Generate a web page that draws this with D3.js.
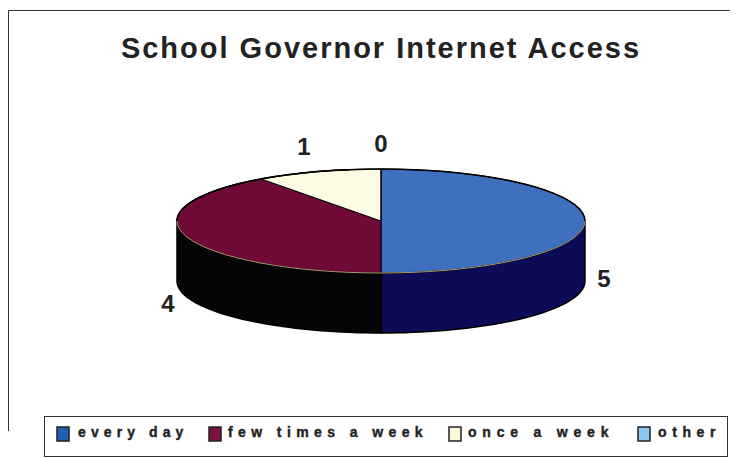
<!DOCTYPE html>
<html><head><meta charset="utf-8">
<script src="https://cdn.jsdelivr.net/npm/d3@7"></script>
<style>html,body{margin:0;padding:0;background:#fff}svg{display:block}text{font-family:"Liberation Sans",Arial,sans-serif;font-weight:bold;fill:#222}</style>
</head><body><svg id="c" width="747" height="458"></svg>
<script>
const categories = ["every day","few times a week","once a week","other"];
const values = [5,4,1,0];
const topColors = ["#3f6fbf","#6f0a38","#fdfbe4","#8cc4ee"];
const sideColors = ["#0b0b58","#050505","#c9c7b0","#5a8fbb"];
const swatchColors = ["#1f5fb4","#7c1040","#fbf8dc","#8cc6f0"];
const title = "School Governor Internet Access";

const svg = d3.select("#c");
const cx=381, cy=221, rx=204, ry=52, depth=60;
const px = a => cx + rx*Math.sin(a), py = a => cy - ry*Math.cos(a);
const pie = d3.pie().sort(null)(values);
const line = d3.line();
const arcPts = (a0,a1,dy=0) => d3.range(0,41).map(i=>{const a=a0+(a1-a0)*i/40;return [px(a),py(a)+dy];});

// frame
svg.append("path").attr("d","M8.5,431V10.5H730").attr("fill","none").attr("stroke","#333").attr("stroke-width",1);

svg.append("text").attr("x",381).attr("y",58).attr("text-anchor","middle")
  .attr("font-size",29).attr("letter-spacing",2).text(title);

// side walls: only the front half (90deg to 270deg) is visible
pie.forEach((d,i)=>{
  const a0=Math.max(d.startAngle,Math.PI/2), a1=Math.min(d.endAngle,Math.PI*1.5);
  if(a1<=a0) return;
  const pts=arcPts(a0,a1,0).concat(arcPts(a0,a1,depth).reverse());
  svg.append("path").attr("d",line(pts)+"Z").attr("fill",sideColors[i]).attr("stroke","#000").attr("stroke-width",1.5);
});
// top faces
pie.forEach((d,i)=>{
  if(d.endAngle<=d.startAngle) return;
  const pts=[[cx,cy]].concat(arcPts(d.startAngle,d.endAngle));
  svg.append("path").attr("d",line(pts)+"Z").attr("fill",topColors[i]).attr("stroke","#000").attr("stroke-width",1);
});
// top rim highlight on front edge
svg.append("path").attr("d",line(arcPts(Math.PI*0.5,Math.PI*1.5))).attr("fill","none").attr("stroke","#b09a70").attr("stroke-width",1);
svg.append("path").attr("d",line(arcPts(-Math.PI*0.5,Math.PI*0.5))).attr("fill","none").attr("stroke","#000").attr("stroke-width",1.5);
svg.append("path").attr("d",line(arcPts(Math.PI*1.5,Math.PI*1.95))).attr("fill","none").attr("stroke","#000").attr("stroke-width",1.5);
svg.append("path").attr("d",`M${cx},${cy-ry}V${cy}`).attr("stroke","#000").attr("stroke-width",1);

// data labels
const labelAt = [[604,287],[168,312],[304,155],[381,152]];
values.forEach((v,i)=>svg.append("text").attr("x",labelAt[i][0]).attr("y",labelAt[i][1])
  .attr("text-anchor","middle").attr("font-size",24).text(v));

// legend
svg.append("rect").attr("x",44.5).attr("y",416.5).attr("width",683).attr("height",40).attr("fill","#fff").attr("stroke","#333");
const swatchX=[57,209,449,638], textX=[78,228,468,658], textLS=[5.1,5.4,5.8,5.6];
categories.forEach((c,i)=>{
  svg.append("rect").attr("x",swatchX[i]).attr("y",427).attr("width",12).attr("height",14)
    .attr("fill",swatchColors[i]).attr("stroke","#222").attr("stroke-width",1.5);
  svg.append("text").attr("x",textX[i]).attr("y",437).attr("font-size",14).attr("letter-spacing",textLS[i])
    .attr("stroke","#222").attr("stroke-width",0.4).text(c);
});
</script></body></html>
